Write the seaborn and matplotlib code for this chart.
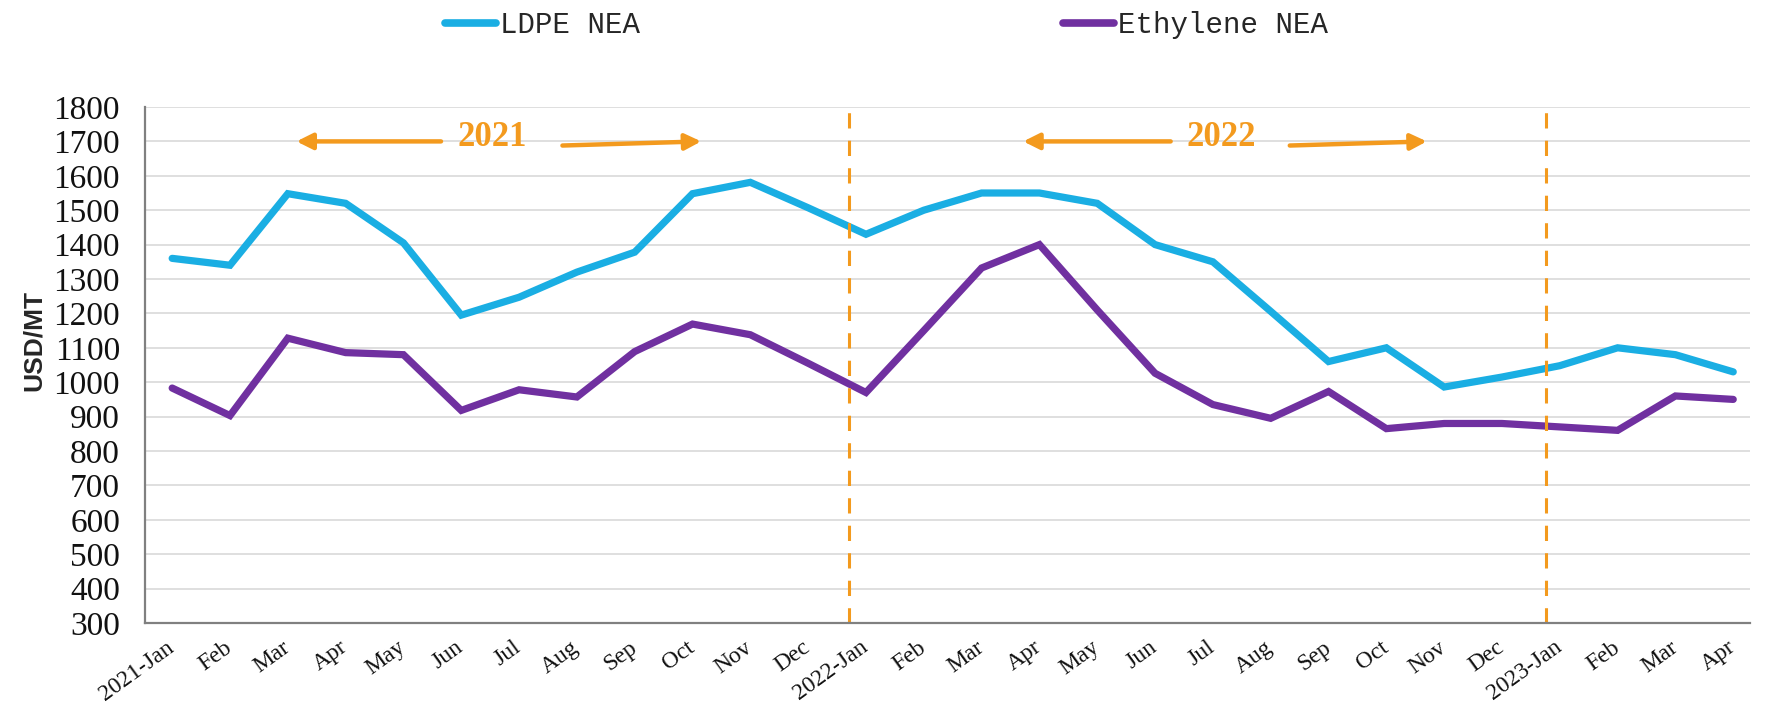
import numpy as np
import pandas as pd
import matplotlib
matplotlib.use("Agg")
import matplotlib.pyplot as plt
import seaborn as sns
from matplotlib.lines import Line2D

# ---- data ----
months = ["2021-Jan", "Feb", "Mar", "Apr", "May", "Jun", "Jul", "Aug", "Sep", "Oct", "Nov", "Dec",
          "2022-Jan", "Feb", "Mar", "Apr", "May", "Jun", "Jul", "Aug", "Sep", "Oct", "Nov", "Dec",
          "2023-Jan", "Feb", "Mar", "Apr"]
ldpe_nea = [1360, 1340, 1548, 1520, 1405, 1195, 1247, 1320, 1378, 1548, 1581, 1507,
            1430, 1500, 1550, 1550, 1520, 1400, 1350, 1206, 1060, 1100, 986, 1015,
            1048, 1100, 1080, 1030]
ethylene_nea = [983, 903, 1128, 1086, 1080, 918, 978, 957, 1089, 1169, 1138, 1055,
                970, 1150, 1332, 1400, 1210, 1026, 935, 895, 973, 865, 880, 880,
                870, 860, 960, 950]
series_names = ["LDPE NEA", "Ethylene NEA"]
year_labels = ["2021", "2022"]
y_ticks = list(range(300, 1801, 100))

colors = {"LDPE NEA": "#1AAEE3", "Ethylene NEA": "#7030A0"}
orange = "#F39A1E"

idx = np.arange(len(months))
df = pd.DataFrame({
    "idx": np.concatenate([idx, idx]),
    "value": ldpe_nea + ethylene_nea,
    "series": [series_names[0]] * len(idx) + [series_names[1]] * len(idx),
})

sns.set_theme(style="white")
plt.rcParams["font.family"] = ["Liberation Serif", "DejaVu Serif"]

fig = plt.figure(figsize=(17.73, 7.14), dpi=100)
ax = fig.add_axes([145 / 1773, 1 - 623 / 714, (1750 - 145) / 1773, (623 - 107) / 714])

sns.lineplot(data=df, x="idx", y="value", hue="series", palette=colors,
             linewidth=5.2, ax=ax, legend=False, solid_capstyle="round",
             solid_joinstyle="miter")

ax.set_xlim(-0.47, 27.29)
ax.set_ylim(300, 1800)
ax.set_yticks(y_ticks)
ax.set_yticklabels([str(v) for v in y_ticks], fontsize=24)
ax.set_xticks(idx)
ax.set_xticklabels(months, fontsize=17, rotation=36, ha="right",
                   rotation_mode="anchor", va="center")
ax.tick_params(axis="y", length=0, pad=18, colors="#111111")
ax.tick_params(axis="x", length=0, pad=16, colors="#111111")
ax.grid(axis="y", color="#D9D9D9", linewidth=1.2)
ax.set_axisbelow(True)
for s in ["top", "right"]:
    ax.spines[s].set_visible(False)
for s in ["left", "bottom"]:
    ax.spines[s].set_color("#808080")
    ax.spines[s].set_linewidth(1.6)

ax.set_xlabel("")
ax.set_ylabel("USD/MT", fontsize=19, fontweight="bold",
              family=["Liberation Sans", "DejaVu Sans"])
ax.yaxis.set_label_coords(-0.0615, 0.548)

# year separators
for xv in [11.7, 23.76]:
    ax.axvline(xv, color=orange, linewidth=2.2, linestyle=(0, (5, 4)), ymax=0.995)

# year annotations with arrows
ann = [(year_labels[0], 5.54, [(4.65, 1700, 2.15, 1700), (6.75, 1688, 9.15, 1700)]),
       (year_labels[1], 18.15, [(17.27, 1700, 14.72, 1700), (19.33, 1688, 21.7, 1700)])]
for label, xc, arrows in ann:
    ax.text(xc, 1712, label, color=orange, fontsize=25, fontweight="bold",
            ha="center", va="center")
    for x0, y0, x1, y1 in arrows:
        ax.annotate("", xy=(x1, y1), xytext=(x0, y0),
                    arrowprops=dict(arrowstyle="-|>", color=orange, lw=3.2,
                                    mutation_scale=24, shrinkA=0, shrinkB=0))

# legend
handles = [Line2D([0], [0], color=colors[n], lw=5.5, solid_capstyle="round") for n in series_names]
fig.legend(handles, series_names, loc="center", bbox_to_anchor=(0.5, 1 - 25 / 714),
           ncol=2, frameon=False, handlelength=1.75, handletextpad=0.15,
           columnspacing=14.5, borderpad=0,
           prop={"family": ["Liberation Mono", "DejaVu Sans Mono"], "size": 21})

fig.savefig("out.png", dpi=100, facecolor="white")
